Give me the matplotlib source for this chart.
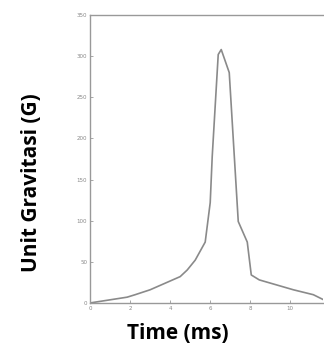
import matplotlib
matplotlib.use("Agg")
import matplotlib.pyplot as plt

# data
time_ms = [0, 1.85, 2.25, 3.0, 4.5, 4.85, 5.25, 5.75, 6.0, 6.1, 6.4, 6.55, 6.95, 7.4, 7.85, 8.05, 8.45, 10.15, 11.15, 11.65]
gravity = [0, 7, 10, 16, 32, 40, 52, 74, 122, 178, 302, 308, 280, 99, 74, 34, 28, 16, 10, 4]
xticks = [0, 2, 4, 6, 8, 10]
yticks = [0, 50, 100, 150, 200, 250, 300, 350]

fig = plt.figure(figsize=(3.24, 3.49), dpi=100)
ax = fig.add_axes([0.278, 0.132, 0.72, 0.825])
ax.plot(time_ms, gravity, color="#8a8a8a", lw=1.2)
ax.set_xlim(0, 11.65)
ax.set_ylim(0, 350)
ax.set_xticks(xticks)
ax.set_yticks(yticks)
ax.tick_params(direction="in", length=2.5, width=0.6, colors="#999999", labelsize=4, labelcolor="#888888", pad=2)
for s in ["left", "bottom", "top"]:
    ax.spines[s].set_color("#999999")
    ax.spines[s].set_linewidth(1.0)
ax.spines["right"].set_visible(False)

fig.text(0.549, 0.043, "Time (ms)", ha="center", va="center", fontsize=15, fontweight="bold", family="Open Sans")
fig.text(0.096, 0.478, "Unit Gravitasi (G)", ha="center", va="center", rotation=90, fontsize=15, fontweight="bold", family="Open Sans")

fig.savefig("out.png", dpi=100)
